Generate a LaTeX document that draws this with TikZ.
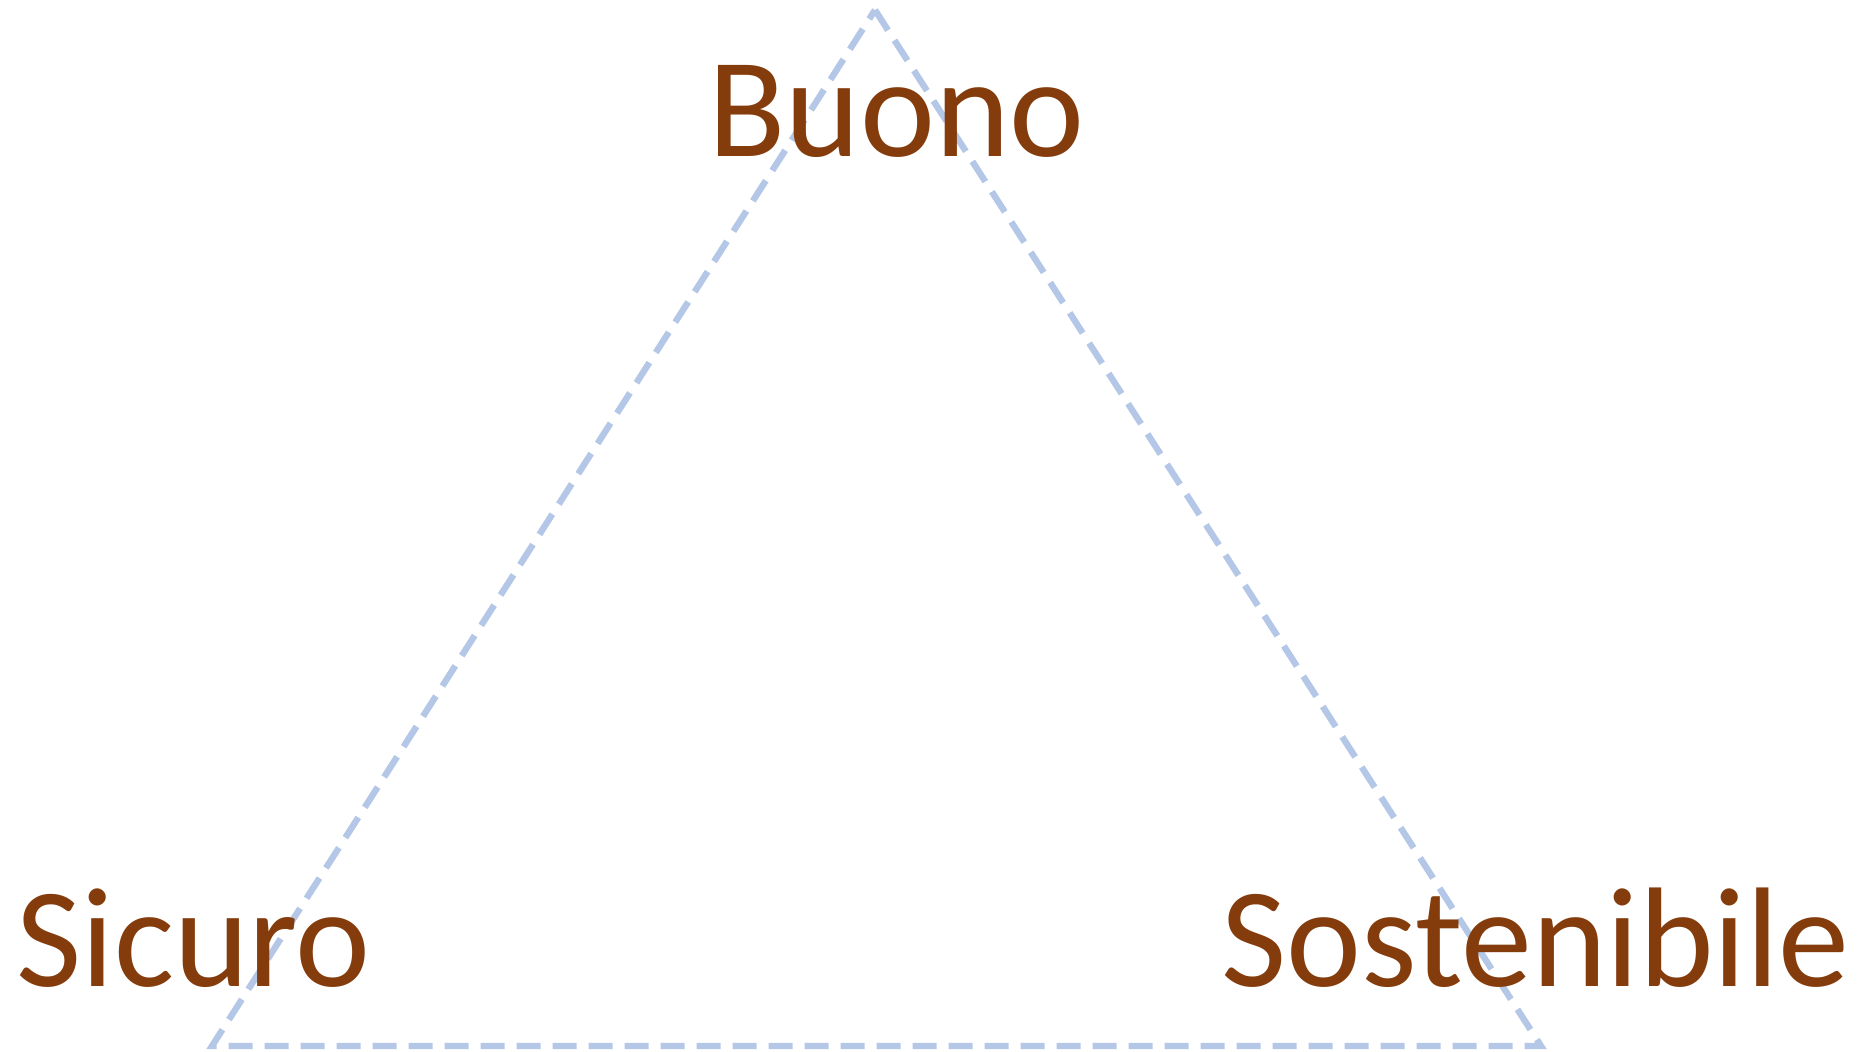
\documentclass[tikz,border=0pt]{standalone}
\usepackage{fontspec}
\setmainfont{Carlito}
\definecolor{brownlbl}{HTML}{843C0C}
\definecolor{lightblue}{HTML}{B4C7E7}
\tikzset{
  lbl/.style={text=brownlbl, font=\fontsize{71}{85}\selectfont, inner sep=0pt, anchor=base west},
  edge/.style={lightblue, line width=3.2pt, dash pattern=on 12pt off 6pt}
}
\begin{document}
\begin{tikzpicture}[x=0.5pt, y=-0.5pt]
      \useasboundingbox (0,0) rectangle (1862,1051);

      \coordinate (top) at (875,10);
      \coordinate (left) at (212,1046);
      \coordinate (right) at (1541,1046);

      \draw[edge] (top) -- (right) -- (left) -- cycle;

      \node[lbl] (buono) at (708,156) {Buono};
      \node[lbl] (sicuro) at (16,986) {Sicuro};
      \node[lbl] (sostenibile) at (1221,986) {Sostenibile};
    \end{tikzpicture}
\end{document}
